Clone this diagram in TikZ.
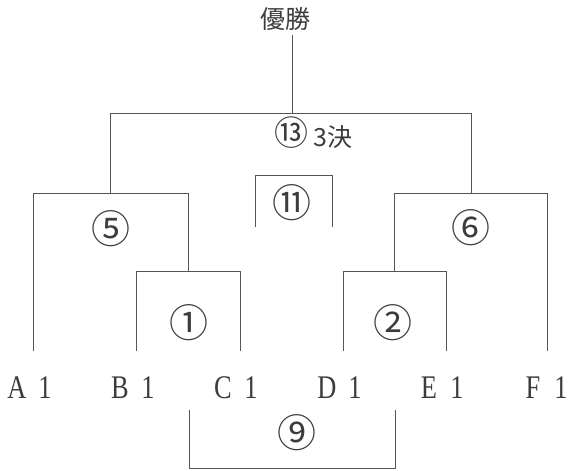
\documentclass[tikz,border=0pt]{standalone}
\usepackage{fontspec}
\newfontfamily\jpf{Noto Sans CJK JP}
\newfontfamily\latf[FakeStretch=0.8]{Liberation Serif}
\definecolor{inkC}{HTML}{3C3C3C}
\definecolor{lineC}{HTML}{555555}
\begin{document}
\begin{tikzpicture}[x=1pt,y=-1pt,
  br/.style={draw=lineC,line width=1.3pt,line join=miter},
  lbl/.style={inner sep=0pt,text=inkC},
  num/.style={lbl,font=\jpf\fontsize{39}{39}\selectfont},
  jp/.style={lbl,font=\jpf\fontsize{25}{25}\selectfont},
  team/.style={lbl,font=\latf\fontsize{33}{33}\selectfont}]
\useasboundingbox (0,0) rectangle (571,471);
% texts
\node[jp] (win) at (285,19) {優勝};
\node[num,font=\jpf\fontsize{34}{34}\selectfont] (m13) at (291,132.5) {⑬};
\node[jp] (third) at (333,137) {3決};
\node[num] (m11) at (292,202.3) {⑪};
\node[num] (m5) at (111,229) {⑤};
\node[num] (m6) at (471,227.5) {⑥};
\node[num] (m1) at (189,322.7) {①};
\node[num] (m2) at (393,323) {②};
\node[num] (m9) at (296.7,432.7) {⑨};
\newcommand{\tm}[2]{\makebox[28pt]{#1}\makebox[28pt]{#2}}
\node[team] (A) at (31,387.5) {\tm{A}{1}};
\node[team] (B) at (134,387.5) {\tm{B}{1}};
\node[team] (C) at (237,387.5) {\tm{C}{1}};
\node[team] (D) at (341,387.5) {\tm{D}{1}};
\node[team] (E) at (443,387.5) {\tm{E}{1}};
\node[team] (F) at (547,387.5) {\tm{F}{1}};
% bracket points
\coordinate (w) at (292.5,35);
\coordinate (top) at (292.5,113.5);
\coordinate (a) at (33.5,350.5);
\coordinate (b) at (136.5,350.5);
\coordinate (c) at (240.5,350.5);
\coordinate (d) at (343.5,350.5);
\coordinate (e) at (446.5,350.5);
\coordinate (f) at (547.5,350.5);
\coordinate (s5) at (110.5,193.5);
\coordinate (s6) at (471.5,193.5);
\coordinate (q1) at (188.5,271.5);
\coordinate (q2) at (394.5,271.5);
\coordinate (k1) at (255.5,226.5);
\coordinate (k) at (293.5,175.5);
\coordinate (k2) at (332.5,226.5);
\coordinate (n1) at (189.5,410);
\coordinate (n) at (292.5,468.5);
\coordinate (n2) at (395.5,410);
% connectors
\draw[br] (w) -- (top);
\draw[br] (s5) |- (top) -| (s6);
\draw[br] (a) |- (s5) -| (q1);
\draw[br] (b) |- (q1) -| (c);
\draw[br] (f) |- (s6) -| (q2);
\draw[br] (d) |- (q2) -| (e);
\draw[br] (k1) |- (k) -| (k2);
\draw[br] (n1) |- (n) -| (n2);
\end{tikzpicture}
\end{document}
